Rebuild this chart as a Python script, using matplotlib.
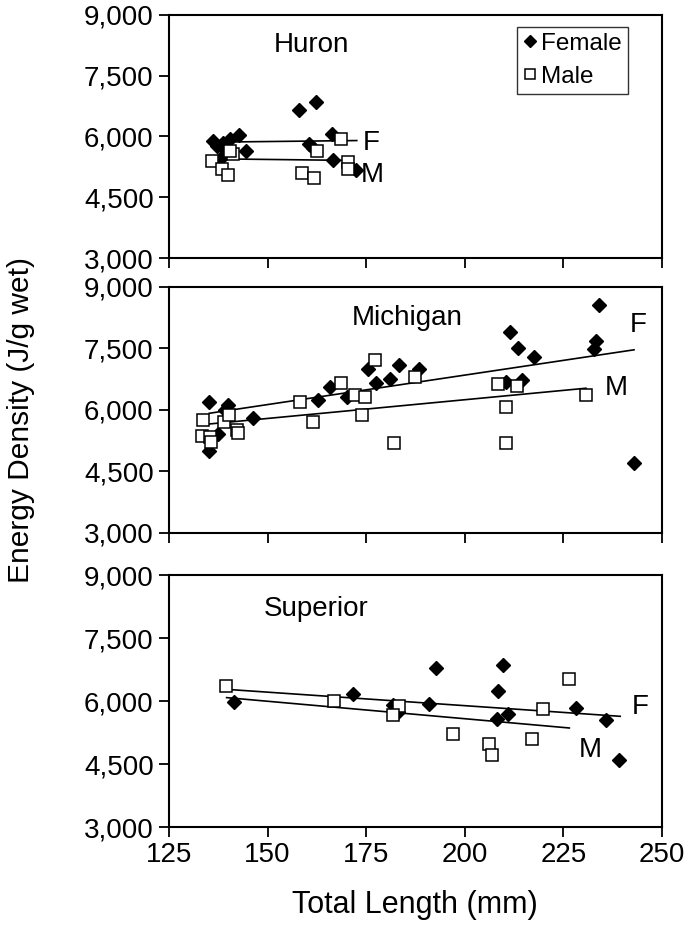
import numpy as np
import matplotlib.pyplot as plt
from matplotlib.ticker import FuncFormatter

plt.rcParams['font.family'] = ['Liberation Sans', 'DejaVu Sans']

# ---- data ----
lakes = ["Huron", "Michigan", "Superior"]

huron_f_len = [158.0, 162.2, 166.3, 160.5, 161.4, 166.5, 172.4, 136.2, 137.2,
               138.8, 140.5, 142.7, 144.5, 137.9, 139.6]
huron_f_ed = [6666, 6846, 6067, 5803, 5721, 5415, 5169, 5884, 5761,
              5845, 5926, 6049, 5637, 5433, 5637]
huron_m_len = [135.8, 138.4, 139.9, 141.3, 140.5, 158.8, 161.8, 162.4, 168.5, 170.5, 170.5]
huron_m_ed = [5391, 5203, 5038, 5556, 5650, 5104, 4981, 5637, 5926, 5366, 5203]

mich_f_len = [135.2, 135.2, 137.5, 139.2, 139.9, 146.4, 162.9, 165.8, 170.1, 175.5,
              177.5, 181.0, 183.4, 188.4, 211.5, 213.4, 217.5, 210.4, 214.6, 234.0,
              233.2, 232.8, 242.9]
mich_f_ed = [6188, 4997, 5413, 6000, 6122, 5797, 6244, 6570, 6325, 6995,
             6653, 6765, 7100, 6995, 7900, 7523, 7289, 6692, 6733, 8567,
             7670, 7491, 4697]
mich_m_len = [133.5, 133.3, 135.4, 135.6, 139.0, 140.2, 142.3, 142.6, 158.2, 161.4,
              168.7, 172.1, 173.9, 174.7, 177.2, 182.0, 187.4, 208.5, 213.2, 210.4,
              210.4, 230.7]
mich_m_ed = [5756, 5372, 5347, 5210, 5714, 5878, 5511, 5445, 6188, 5699,
             6653, 6367, 5878, 6325, 7222, 5186, 6814, 6636, 6587, 6081,
             5186, 6367]

sup_f_len = [141.6, 171.6, 181.7, 183.1, 192.7, 191.0, 209.6, 208.5, 208.1, 211.0,
             228.1, 235.8, 239.2]
sup_f_ed = [5976, 6159, 5914, 5739, 6784, 5922, 6865, 6231, 5565, 5700,
            5834, 5541, 4607]
sup_m_len = [139.5, 166.8, 183.4, 181.9, 197.1, 206.1, 206.8, 217.0, 219.7, 226.4]
sup_m_ed = [6357, 5993, 5874, 5677, 5208, 4971, 4726, 5090, 5803, 6516]

# trend line end points (length, energy density)
huron_f_fit = ([135.6, 172.6], [5860, 5900])
huron_m_fit = ([135.6, 170.5], [5450, 5410])
mich_f_fit = ([135.2, 242.9], [5919, 7467])
mich_m_fit = ([135.2, 230.7], [5658, 6530])
sup_f_fit = ([139.6, 239.4], [6278, 5636])
sup_m_fit = ([139.6, 226.5], [6081, 5358])

# F / M tags and panel title positions
huron_tags = [("F", 176.3, 5845), ("M", 176.5, 5060)]
mich_tags = [("F", 244.0, 8080), ("M", 238.5, 6530)]
sup_tags = [("F", 244.4, 5857), ("M", 231.7, 4828)]
title_pos = [(161, 8270), (185.3, 8250), (162.3, 8200)]

panels = [
    (huron_f_len, huron_f_ed, huron_m_len, huron_m_ed, huron_f_fit, huron_m_fit, huron_tags),
    (mich_f_len, mich_f_ed, mich_m_len, mich_m_ed, mich_f_fit, mich_m_fit, mich_tags),
    (sup_f_len, sup_f_ed, sup_m_len, sup_m_ed, sup_f_fit, sup_m_fit, sup_tags),
]

# axes boxes in figure fraction: left, bottom, width, height
boxes = [
    [0.2418, 0.7264, 0.7053, 0.2577],
    [0.2418, 0.4348, 0.7053, 0.2609],
    [0.2418, 0.1230, 0.7053, 0.2672],
]

fig = plt.figure(figsize=(6.99, 9.43), dpi=100)
fs = 20

for i, (fx, fy, mx, my, ffit, mfit, tags) in enumerate(panels):
    ax = fig.add_axes(boxes[i])
    ax.plot(ffit[0], ffit[1], '-k', lw=1.2, zorder=2)
    ax.plot(mfit[0], mfit[1], '-k', lw=1.2, zorder=2)
    ax.plot(fx, fy, 'D', color='black', ms=7.5, ls='none', label='Female', zorder=3)
    ax.plot(mx, my, 's', mfc='white', mec='black', mew=1.1, ms=9, ls='none',
            label='Male', zorder=4)
    for t, tx, ty in tags:
        ax.text(tx, ty, t, fontsize=fs, ha='center', va='center')
    ax.text(title_pos[i][0], title_pos[i][1], lakes[i], fontsize=fs,
            ha='center', va='center')

    ax.set_xlim(125, 250)
    ax.set_ylim(3000, 9000)
    ax.set_xticks(np.arange(125, 251, 25))
    ax.set_yticks(np.arange(3000, 9001, 1500))
    ax.yaxis.set_major_formatter(FuncFormatter(lambda v, p: f"{int(v):,}"))
    ax.tick_params(direction='out', length=7, width=1.3, labelsize=fs, pad=4)
    for s in ax.spines.values():
        s.set_linewidth(1.5)
    if i < 2:
        ax.tick_params(labelbottom=False)
    if i == 0:
        ax.legend(loc='upper left', bbox_to_anchor=(0.706, 0.952), frameon=True,
                  fancybox=False, edgecolor='black', fontsize=17.5,
                  handlelength=0.6, handletextpad=0.15, borderpad=0.25,
                  borderaxespad=0, labelspacing=0.45, markerscale=0.8)
        ax.get_legend().get_frame().set_linewidth(1.0)

fig.text(0.03, 0.555, "Energy Density (J/g wet)", rotation=90, fontsize=21.5,
         ha='center', va='center')
fig.text(0.594, 0.04, "Total Length (mm)", fontsize=22, ha='center', va='center')

fig.savefig("out.png", dpi=100)
